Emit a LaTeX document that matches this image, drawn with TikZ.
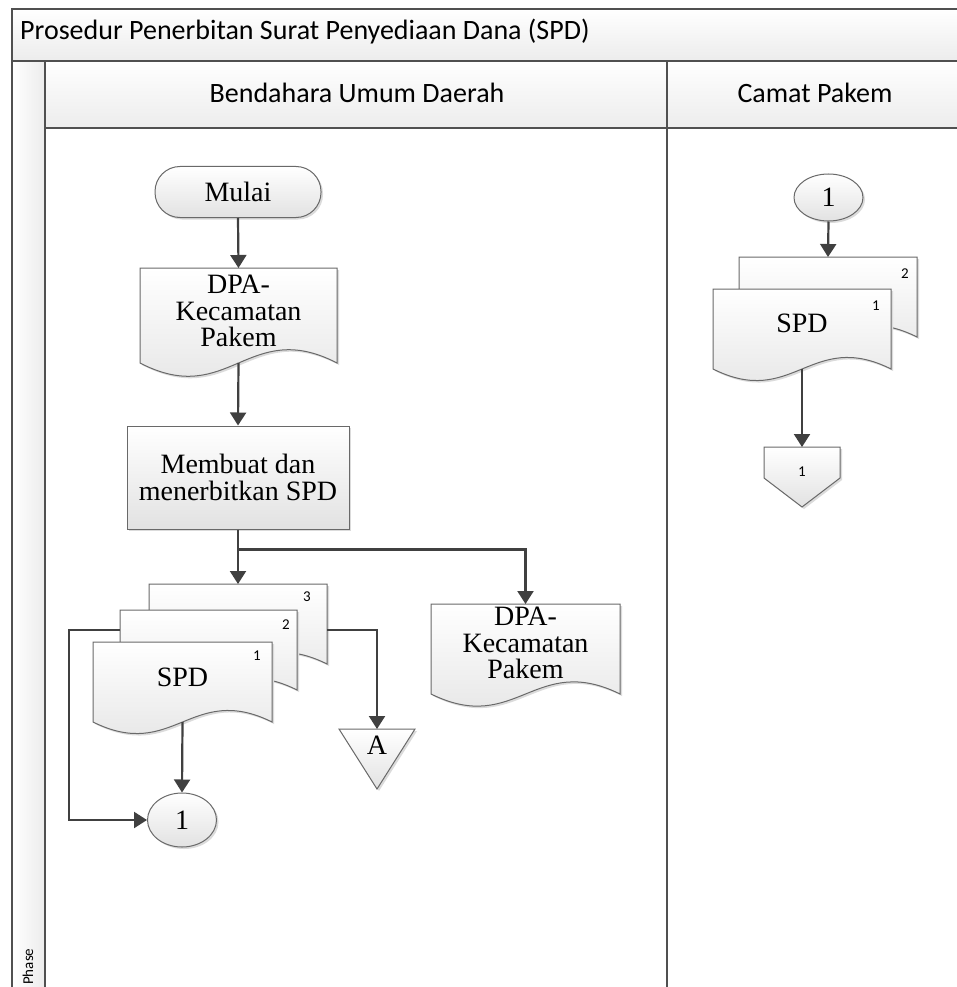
\documentclass[tikz,border=0pt]{standalone}
\usepackage{fontspec}
\setmainfont{Liberation Serif}
\newfontfamily\calfont{Carlito}
\usetikzlibrary{arrows.meta,calc,shapes.geometric,shadows}
\pgfdeclarelayer{lanes}
\pgfdeclarelayer{shapes}
\pgfsetlayers{lanes,shapes,main}
\definecolor{lnc}{RGB}{80,80,80}
\definecolor{arc}{RGB}{64,64,64}
\definecolor{shc}{RGB}{105,105,105}
\definecolor{fbot}{RGB}{226,226,226}
\definecolor{hbot}{RGB}{236,236,236}
\tikzset{
  serif/.style={font=\fontsize{28}{26.5}\selectfont, align=center},
  numsty/.style={font=\calfont\fontsize{15}{15}\selectfont, inner sep=0pt},
  headsty/.style={font=\calfont\fontsize{28}{28}\selectfont, inner sep=0pt},
  shp/.style={draw=shc, line width=1pt, top color=white, bottom color=fbot,
    drop shadow={shadow xshift=2pt, shadow yshift=-2pt, fill=black!14, opacity=1}},
  ghost/.style={inner sep=0pt, outer sep=0pt},
  conn/.style={draw=arc, line width=2.2pt, -{Triangle[length=13pt,width=16pt]}},
  frame/.style={draw=lnc, line width=2pt},
}
% doc outline: #1 node, #2 width, #3 side height, #4 wave control
\newcommand\docshape[4]{%
  \begin{pgfonlayer}{shapes}
  \path[shp] (#1.north west) -- (#1.north east) -- ([yshift=-#3pt]#1.north east)
    .. controls ([xshift=-0.45*#2pt, yshift=-#3pt+#4pt]#1.north east)
    and ([xshift=0.45*#2pt, yshift=-#3pt-#4pt]#1.north west)
    .. ([yshift=-#3pt]#1.north west) -- cycle;
  \end{pgfonlayer}}
\begin{document}
\begin{tikzpicture}[x=1pt,y=-1pt]
\useasboundingbox (0,0) rectangle (957,987);
% ---------- lanes ----------
\begin{pgfonlayer}{lanes}
  \fill[white] (0,0) rectangle (957,987);
  \path[top color=white, bottom color=hbot] (12,9) rectangle (975,61);
  \path[left color=white, right color=hbot] (12,61) rectangle (45,1000);
  \path[top color=white, bottom color=hbot] (45,61) rectangle (975,128);
  \draw[frame] (12,1000) -- (12,9) -- (975,9);
  \draw[frame] (12,61) -- (975,61);
  \draw[frame] (45,61) -- (45,1000);
  \draw[frame] (45,128) -- (975,128);
  \draw[frame] (667,61) -- (667,1000);
\end{pgfonlayer}
\node[headsty, anchor=base west] (title) at (20,40) {Prosedur Penerbitan Surat Penyediaan Dana (SPD)};
\node[headsty, anchor=base] (lane1) at (357,103) {Bendahara Umum Daerah};
\node[headsty, anchor=base] (lane2) at (815,103) {Camat Pakem};
\node[font=\calfont\fontsize{15}{15}\selectfont, inner sep=0pt, rotate=90, anchor=west] (phase) at (28,985) {Phase};
% ---------- Bendahara lane ----------
\node[shp, serif, rounded corners=25pt, minimum width=166pt, minimum height=51pt, inner sep=0pt] (mulai) at (238,192) {Mulai};
\node[ghost, serif, minimum width=197pt, minimum height=86pt] (dpa1) at (238.5,311) {DPA-\\Kecamatan\\Pakem};
\docshape{dpa1}{197}{95}{46}
\coordinate (dpa1b) at ([yshift=-95pt]dpa1.north);
\node[shp, serif, minimum width=222pt, minimum height=103pt, inner sep=0pt] (proc) at (238,477.5) {Membuat dan\\menerbitkan SPD};
\node[ghost, minimum width=178pt, minimum height=60pt] (spd3) at (238,614) {};
\node[ghost, minimum width=177pt, minimum height=60pt] (spd2) at (208.5,640) {};
\node[ghost, serif, minimum width=179pt, minimum height=70pt] (spd1) at (182.5,677) {SPD};
\docshape{spd3}{178}{80}{40}
\docshape{spd2}{177}{80}{40}
\docshape{spd1}{179}{80}{40}
\coordinate (spd1b) at ([yshift=-80pt]spd1.north);
\node[numsty] (n3) at (307,597) {3};
\node[numsty] (n2) at (286,625) {2};
\node[numsty] (n1) at (257,656) {1};
\node[ghost, serif, minimum width=189pt, minimum height=78pt] (dpa2) at (525.5,643) {DPA-\\Kecamatan\\Pakem};
\docshape{dpa2}{189}{90}{42}
\node[ghost, serif, minimum width=76pt, minimum height=32pt] (tA) at (377,745) {A};
\begin{pgfonlayer}{shapes}
  \path[shp] (tA.north west) -- (tA.north east) -- ([yshift=-60pt]tA.north) -- cycle;
\end{pgfonlayer}
\node[shp, serif, ellipse, minimum width=69pt, minimum height=54pt, inner sep=0pt] (c1) at (182,820) {1};
\coordinate (fbL) at ([yshift=-20pt]spd2.north west);
% connectors
\draw[conn] (mulai.south) -- (dpa1.north);
\draw[conn] (dpa1b) -- (proc.north);
\draw[conn] (proc.south) -- (spd3.north);
\coordinate (br) at ([yshift=-20pt]proc.south);
\draw[conn] (br) -| (dpa2.north);
\draw[conn] (fbL) -- ++(-51,0) |- (c1.west);
\draw[conn] (spd3.east |- fbL) -| (tA.north);
\draw[conn] (spd1b) -- (c1.north);
% ---------- Camat lane ----------
\node[shp, serif, ellipse, minimum width=69pt, minimum height=47pt, inner sep=0pt] (c2) at (828.5,197.5) {1};
\node[ghost, minimum width=178pt, minimum height=60pt] (cspd2) at (828,287) {};
\node[ghost, serif, minimum width=178pt, minimum height=68pt] (cspd1) at (802,323) {SPD};
\docshape{cspd2}{178}{80}{40}
\docshape{cspd1}{178}{80}{40}
\coordinate (cspd1b) at ([yshift=-80pt]cspd1.north);
\node[numsty] (cn2) at (905,274) {2};
\node[numsty] (cn1) at (876,306) {1};
\node[ghost, minimum width=76pt, minimum height=50pt] (op) at (802,472) {};
\node[numsty] (opl) at (op.center) {1};
\begin{pgfonlayer}{shapes}
  \path[shp] (op.north west) -- (op.north east) -- ([yshift=-31pt]op.north east)
    -- ([yshift=-60pt]op.north) -- ([yshift=-31pt]op.north west) -- cycle;
\end{pgfonlayer}
\draw[conn] (c2.south) -- (cspd2.north);
\draw[conn] (cspd1b) -- (op.north);
\end{tikzpicture}
\end{document}
